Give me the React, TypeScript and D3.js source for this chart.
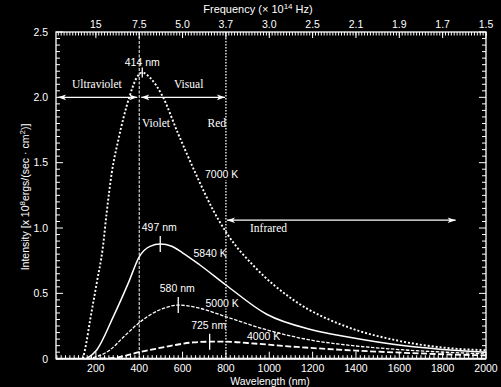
import React from 'react';
import * as d3 from 'd3';

// curves: wavelength (nm) / intensity
const wl7000 = [140, 150, 176, 204, 232, 250, 273, 303, 354, 385, 414, 450, 504, 580, 665, 740, 804, 934, 1111, 1357, 1580, 1834, 2000];
const int7000 = [0.0, 0.07, 0.32, 0.58, 0.85, 1.12, 1.42, 1.67, 2.0, 2.14, 2.19, 2.15, 2.02, 1.72, 1.4, 1.14, 0.96, 0.7, 0.45, 0.245, 0.143, 0.08, 0.065];

const wl5840 = [157, 204, 280, 350, 400, 450, 497, 550, 600, 680, 800, 988, 1200, 1357, 1634, 2000];
const int5840 = [0.0, 0.067, 0.32, 0.58, 0.78, 0.86, 0.877, 0.86, 0.81, 0.717, 0.564, 0.34, 0.22, 0.168, 0.097, 0.05];

const wl5000 = [165, 265, 330, 396, 465, 520, 578, 680, 800, 1000, 1200, 1357, 1600, 2000];
const int5000 = [0.0, 0.067, 0.17, 0.27, 0.35, 0.39, 0.41, 0.386, 0.321, 0.215, 0.14, 0.105, 0.07, 0.037];

const wl4000 = [219, 300, 400, 450, 550, 650, 725, 800, 900, 1125, 1400, 1700, 2000];
const int4000 = [0.0, 0.01, 0.05, 0.067, 0.1, 0.125, 0.13, 0.13, 0.12, 0.09, 0.062, 0.04, 0.025];

const tempLabels = ['7000 K', '5840 K', '5000 K', '4000 K'];
const peakWl = [414, 497, 580, 725];
const peakInt = [2.19, 0.877, 0.41, 0.13];
const peakLabels = ['414 nm', '497 nm', '580 nm', '725 nm'];

const wlTicks = [200, 400, 600, 800, 1000, 1200, 1400, 1600, 1800, 2000];
const freqLabels = ['15', '7.5', '5.0', '3.7', '3.0', '2.5', '2.1', '1.9', '1.7', '1.5'];
const yTicks = [0, 0.5, 1, 1.5, 2, 2.5];
const yTickLabels = ['0', '0.5', '1.0', '1.5', '2.0', '2.5'];

// band limits (nm): ultraviolet | visual | infrared
const bandEdges = [16, 400, 800, 1860];

const W = 501;
const H = 387;
const left = 56, right = 486, top = 32, bottom = 358.7;

const x = d3.scaleLinear().domain([16, 2000]).range([left, right]);
const y = d3.scaleLinear().domain([0, 2.5]).range([bottom, top]);

const sans = '"Liberation Sans", Arial, sans-serif';
const serif = '"Liberation Serif", "Times New Roman", serif';

function curvePath(wl: number[], iv: number[]) {
  const line = d3.line<number>()
    .x((d, i) => x(wl[i]))
    .y(d => y(d))
    .curve(d3.curveMonotoneX);
  return line(iv) || '';
}

function Arrow({ x1, x2, yy }: { x1: number, x2: number, yy: number }) {
  const hl = 8, hw = 2.8;
  return (
    <g>
      <line x1={x1} x2={x2} y1={yy} y2={yy} stroke="#fff" strokeWidth={1.2} />
      <path d={`M${x1},${yy} L${x1 + hl},${yy - hw} L${x1 + hl - 2},${yy} L${x1 + hl},${yy + hw} Z`} fill="#fff" />
      <path d={`M${x2},${yy} L${x2 - hl},${yy - hw} L${x2 - hl + 2},${yy} L${x2 - hl},${yy + hw} Z`} fill="#fff" />
    </g>
  );
}

export default function App() {
  const series = [
    { d: curvePath(wl7000, int7000), dash: '2,2', w: 1.9 },
    { d: curvePath(wl5840, int5840), dash: undefined, w: 1.5 },
    { d: curvePath(wl5000, int5000), dash: '3.5,1.5', w: 1.3 },
    { d: curvePath(wl4000, int4000), dash: '6,2.5', w: 1.8 },
  ];

  const minorBottom = d3.range(20, 2001, 20);
  const minorTop = d3.range(0, 2001, 200 / 15).filter(v => v > 17);
  const minorY = d3.range(0, 2.501, 0.05);

  // pixel spots of the temperature labels
  const tempPos = [[205, 178], [193.5, 257], [205.5, 306.5], [247, 340]];

  const yArrowUV = y(2.0);
  const yArrowIR = y(1.06);

  return (
    <div style={{ position: 'absolute', left: 0, top: 0 }}>
      <svg width={W} height={H} style={{ display: 'block', background: '#000' }}>
        <rect x={0} y={0} width={W} height={H} fill="#000" />

        {/* band separators */}
        <line x1={x(400)} x2={x(400)} y1={top} y2={bottom} stroke="#fff" strokeWidth={1} strokeDasharray="3,1.5" />
        <line x1={x(800)} x2={x(800)} y1={top} y2={bottom} stroke="#fff" strokeWidth={1.3} strokeDasharray="1.5,1.5" />

        {/* curves */}
        {series.map((s, i) => (
          <path key={i} d={s.d} fill="none" stroke="#fff" strokeWidth={s.w} strokeDasharray={s.dash} />
        ))}

        {/* peak markers */}
        {peakWl.map((p, i) => {
          const px = x(p), py = y(peakInt[i]);
          const up = i === 0 ? 5 : 8;
          const down = i === 0 ? 5 : 8;
          const ly = i === 0 ? py - 7 : py - 13;
          return (
            <g key={i}>
              <line x1={px} x2={px} y1={py - up} y2={py + down} stroke="#fff" strokeWidth={1.3} />
              <text x={x(p) - (i === 0 ? 0 : 1)} y={ly} fill="#fff" fontFamily={sans} fontSize={10.5} textAnchor="middle">{peakLabels[i]}</text>
            </g>
          );
        })}

        {/* temperature labels */}
        {tempLabels.map((t, i) => (
          <g key={t}>
            {(i === 0 || i === 2) && (
              <rect x={tempPos[i][0] - 1} y={tempPos[i][1] - 9} width={36} height={11} fill="#000" />
            )}
            <text x={tempPos[i][0]} y={tempPos[i][1]} fill="#fff" fontFamily={sans} fontSize={10.5}>{t}</text>
          </g>
        ))}

        {/* band arrows */}
        <Arrow x1={x(bandEdges[0]) + 2} x2={x(bandEdges[1]) - 2} yy={yArrowUV} />
        <Arrow x1={x(bandEdges[1]) + 2} x2={x(bandEdges[2]) - 1} yy={yArrowUV} />
        <Arrow x1={x(bandEdges[2]) + 1} x2={x(bandEdges[3])} yy={yArrowIR} />

        <text x={72} y={88} fill="#fff" fontFamily={serif} fontSize={11.5}>Ultraviolet</text>
        <text x={174} y={88} fill="#fff" fontFamily={serif} fontSize={11.5}>Visual</text>
        <text x={142} y={126.5} fill="#fff" fontFamily={serif} fontSize={11.5}>Violet</text>
        <text x={207.5} y={126.5} fill="#fff" fontFamily={serif} fontSize={11.5}>Red</text>
        <text x={250} y={232} fill="#fff" fontFamily={serif} fontSize={11.5}>Infrared</text>

        {/* frame */}
        <rect x={left} y={top} width={right - left} height={bottom - top} fill="none" stroke="#fff" strokeWidth={1.3} />
        <line x1={left} x2={right} y1={bottom} y2={bottom} stroke="#fff" strokeWidth={2} />

        {/* bottom ticks */}
        {minorBottom.map(v => (
          <line key={'b' + v} x1={x(v)} x2={x(v)} y1={bottom} y2={bottom - (v % 200 === 0 ? 7 : 3.5)} stroke="#fff" strokeWidth={1} />
        ))}
        {wlTicks.map(v => (
          <text key={'bl' + v} x={x(v)} y={372} fill="#fff" fontFamily={sans} fontSize={10.5} textAnchor="middle">{v}</text>
        ))}

        {/* top ticks */}
        {minorTop.map((v, i) => (
          <line key={'t' + i} x1={x(v)} x2={x(v)} y1={top} y2={top + 3.5} stroke="#fff" strokeWidth={1} />
        ))}
        {wlTicks.map((v, i) => (
          <g key={'tl' + v}>
            <line x1={x(v)} x2={x(v)} y1={top} y2={top + 6} stroke="#fff" strokeWidth={1} />
            <text x={x(v)} y={28} fill="#fff" fontFamily={sans} fontSize={10.5} textAnchor="middle">{freqLabels[i]}</text>
          </g>
        ))}

        {/* left & right ticks */}
        {minorY.map((v, i) => {
          const major = i % 10 === 0;
          const len = major ? 7 : 4;
          return (
            <g key={'y' + i}>
              <line x1={left} x2={left + len} y1={y(v)} y2={y(v)} stroke="#fff" strokeWidth={1} />
              <line x1={right} x2={right - len} y1={y(v)} y2={y(v)} stroke="#fff" strokeWidth={1} />
            </g>
          );
        })}
        {yTicks.map((v, i) => (
          <text key={'yl' + v} x={48} y={y(v) + 3.8} fill="#fff" fontFamily={sans} fontSize={10.5} textAnchor="end">{yTickLabels[i]}</text>
        ))}

        {/* axis titles */}
        <text x={270} y={384.5} fill="#fff" fontFamily={sans} fontSize={10.5} textAnchor="middle">Wavelength (nm)</text>
        <text x={258} y={13} fill="#fff" fontFamily={sans} fontSize={11} textAnchor="middle">
          Frequency (× 10<tspan dy={-4} fontSize={8}>14</tspan><tspan dy={4}> Hz)</tspan>
        </text>
        <text transform={`translate(29,197) rotate(-90)`} fill="#fff" fontFamily={sans} fontSize={10.5} textAnchor="middle">
          Intensity [x 10<tspan dy={-4} fontSize={8}>8</tspan><tspan dy={4}>ergs/(sec · cm</tspan><tspan dy={-4} fontSize={8}>2</tspan><tspan dy={4}>)]</tspan>
        </text>
      </svg>
    </div>
  );
}
